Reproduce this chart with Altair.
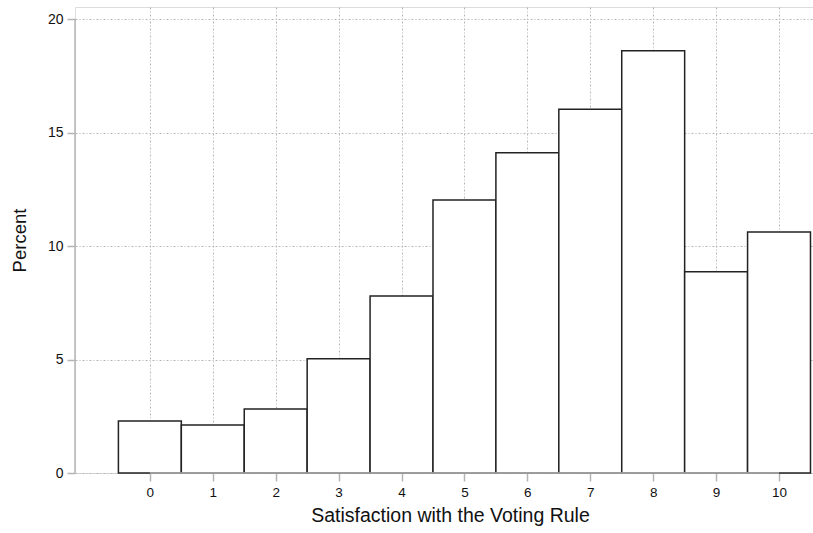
import altair as alt
import pandas as pd

categories = [0, 1, 2, 3, 4, 5, 6, 7, 8, 9, 10]
percents = [2.29, 2.11, 2.82, 5.03, 7.80, 12.03, 14.11, 16.02, 18.60, 8.87, 10.62]
y_ticks = [0, 5, 10, 15, 20]

df = pd.DataFrame({
    "start": [c - 0.5 for c in categories],
    "end": [c + 0.5 for c in categories],
    "pct": percents,
})

FONT = "Liberation Sans"
GRID = "#b4b4b4"
DASH = [2, 2, 1, 2]

xscale = alt.Scale(domain=[-1.19, 10.54], nice=False, zero=False)
yscale = alt.Scale(domain=[0, 20.53], nice=False, zero=False)

bars = alt.Chart(df).mark_rect(fill="white", stroke="#222222", strokeWidth=1.5).encode(
    x=alt.X("start:Q", scale=xscale,
            axis=alt.Axis(values=categories, title="Satisfaction with the Voting Rule",
                          domain=False, grid=True, gridColor=GRID, gridDash=DASH,
                          gridWidth=1, tickColor=GRID, tickSize=8, tickWidth=1.5,
                          labelFont=FONT, labelFontSize=13.5, labelColor="#111",
                          labelPadding=4, titleFont=FONT, titleFontSize=19.5,
                          titleFontWeight="normal", titleColor="#111", titlePadding=8,
                          titleX=375, format="d")),
    x2="end:Q",
    y=alt.Y("pct:Q", scale=yscale,
            axis=alt.Axis(values=y_ticks, title="Percent", domain=False, grid=True,
                          gridColor=GRID, gridDash=DASH, gridWidth=1,
                          tickColor=GRID, tickSize=8, tickWidth=1.5,
                          labelFont=FONT, labelFontSize=14, labelColor="#111",
                          labelPadding=4, titleFont=FONT, titleFontSize=18.5,
                          titleFontWeight="normal", titleColor="#111", titlePadding=18)),
    y2=alt.datum(0),
)

xline = alt.Chart(pd.DataFrame({"a": [0], "b": [10]})).mark_rule(
    color=GRID, strokeWidth=1.5).encode(
    x=alt.X("a:Q", scale=xscale), x2="b:Q", y=alt.value(466))

yline = alt.Chart(pd.DataFrame({"a": [0], "b": [20]})).mark_rule(
    color=GRID, strokeWidth=1.5).encode(
    y=alt.Y("a:Q", scale=yscale), y2="b:Q", x=alt.value(0))

chart = alt.layer(bars, xline, yline).properties(
    width=738, height=466,
    padding={"left": 75, "top": 7, "right": 0, "bottom": 60},
    autosize="none",
).configure_view(stroke=None).configure(background="white")

chart.save("out.html", embed_options={"renderer": "svg", "actions": False})
